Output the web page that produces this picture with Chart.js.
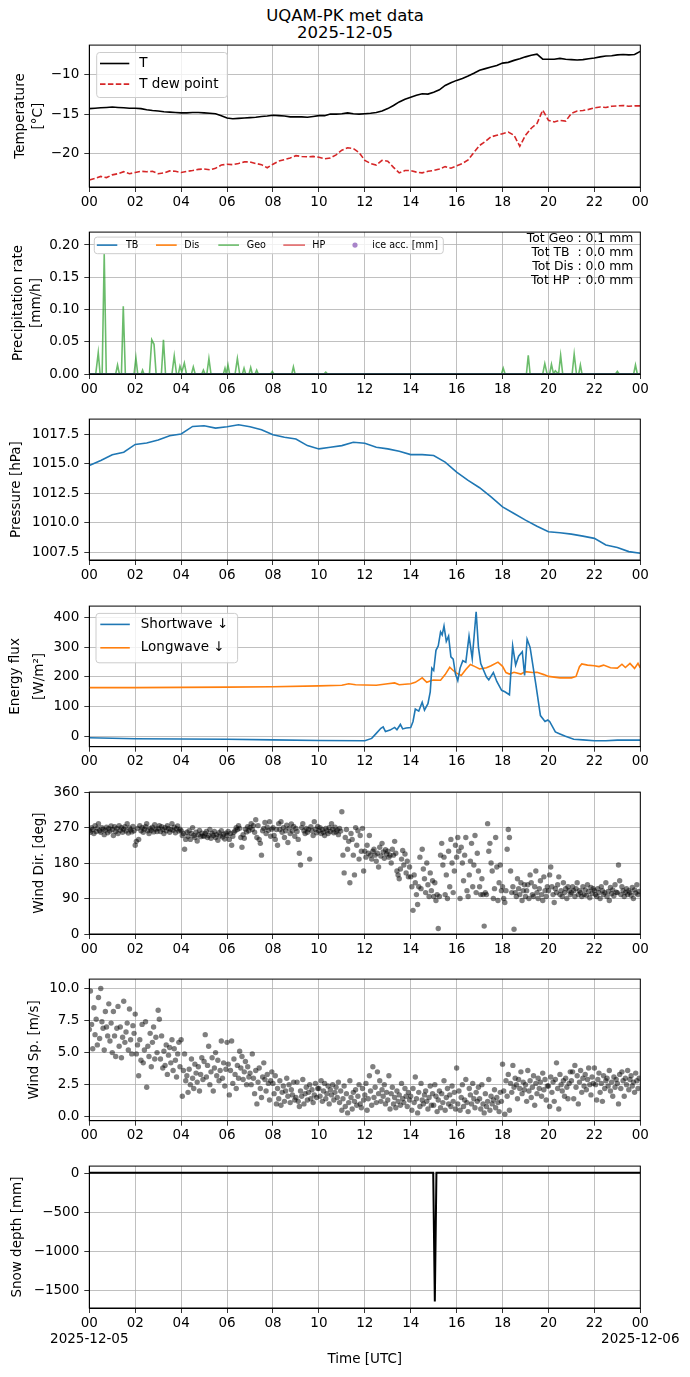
<!DOCTYPE html>
<html lang="en">
<head>
<meta charset="UTF-8">
<title>UQAM-PK met data</title>
<script src="https://cdn.jsdelivr.net/npm/chart.js"></script>
<style>
  html, body { margin: 0; padding: 0; background: #fff; }
  #fig { position: relative; width: 690px; height: 1377px; font-family: "DejaVu Sans", sans-serif; overflow: hidden; }
  #fig canvas { position: absolute; left: 0; }
  #suptitle { position: absolute; left: 0; top: 7px; width: 690px; text-align: center; font-size: 16.5px; line-height: 17.3px; color: #000; }
</style>
</head>
<body>
<div id="fig">
  <div id="suptitle">UQAM-PK met data<br>2025-12-05</div>
  <canvas id="cTemp"></canvas>
  <canvas id="cPrecip"></canvas>
  <canvas id="cPres"></canvas>
  <canvas id="cRad"></canvas>
  <canvas id="cDir"></canvas>
  <canvas id="cSpd"></canvas>
  <canvas id="cSnow"></canvas>
</div>
<script>
// ---- data ----
const hourTicks = [0, 2, 4, 6, 8, 10, 12, 14, 16, 18, 20, 22, 24];

// temperature, every 15 min
const tempT = [
  -14.3, -14.25, -14.2, -14.15, -14.1, -14.15, -14.2, -14.25,
  -14.25, -14.3, -14.45, -14.55, -14.6, -14.7, -14.75, -14.8,
  -14.85, -14.85, -14.8, -14.8, -14.85, -14.9, -14.95, -15.2,
  -15.5, -15.6, -15.55, -15.5, -15.45, -15.4, -15.3, -15.25,
  -15.15, -15.2, -15.25, -15.35, -15.35, -15.35, -15.4, -15.3,
  -15.2, -15.2, -15.0, -15.0, -14.95, -14.85, -14.95, -15.0,
  -14.95, -14.9, -14.8, -14.6, -14.3, -13.9, -13.45, -13.1,
  -12.85, -12.6, -12.4, -12.45, -12.2, -11.9, -11.35, -11.0,
  -10.7, -10.45, -10.15, -9.8, -9.4, -9.2, -9.0, -8.8,
  -8.5, -8.4, -8.15, -7.95, -7.7, -7.5, -7.35, -8.0,
  -8.0, -8.0, -7.9, -8.0, -8.05, -8.1, -8.05, -7.95,
  -7.85, -7.7, -7.6, -7.55, -7.45, -7.4, -7.45, -7.4,
  -7.0
];
const tempTd = [
  -23.4, -23.2, -22.95, -23.1, -22.75, -22.6, -22.35, -22.6,
  -22.45, -22.3, -22.35, -22.3, -22.6, -22.5, -22.25, -22.3,
  -22.45, -22.3, -22.2, -22.05, -22.0, -22.1, -21.9, -21.5,
  -21.4, -21.45, -21.3, -21.1, -21.1, -21.3, -21.45, -21.85,
  -21.4, -21.0, -20.8, -20.6, -20.3, -20.4, -20.45, -20.4,
  -20.5, -20.7, -20.6, -20.2, -19.6, -19.3, -19.4, -19.9,
  -20.9, -21.3, -21.5, -20.9, -21.0, -21.8, -22.5, -22.2,
  -22.2, -22.4, -22.5, -22.3, -22.2, -22.0, -21.7, -21.9,
  -21.6, -21.3, -20.85, -19.9, -19.0, -18.5, -17.9, -17.7,
  -17.5, -17.3, -17.7, -19.1, -17.7, -16.8, -16.2, -14.5,
  -15.8, -16.0, -15.8, -15.9, -14.9, -14.6, -14.55, -14.4,
  -14.2, -14.1, -14.15, -14.0, -13.95, -13.9, -14.0, -13.95,
  -13.95
];

// precipitation rate [mm/h]
const geoTimes = [0, 0.28, 0.39, 0.47, 0.56, 0.65, 0.74, 1.15, 1.23, 1.31, 1.4, 1.48, 1.57,
  1.95, 2.03, 2.11, 2.26, 2.32, 2.38, 2.62, 2.72, 2.82, 2.91, 3.14, 3.23, 3.32,
  3.6, 3.7, 3.8, 3.88, 3.95, 4.03, 4.14, 4.23, 4.45, 4.53, 4.61, 4.9, 4.97, 5.04,
  5.12, 5.21, 5.3, 5.84, 5.91, 5.97, 6.04, 6.11, 6.35, 6.45, 6.55, 6.67, 6.74, 6.81,
  6.96, 7.03, 7.1, 7.22, 7.29, 7.36, 7.9, 7.97, 8.04, 8.82, 8.89, 8.96, 10.22, 10.3, 10.38,
  17.95, 18.03, 18.11, 19.04, 19.12, 19.2, 19.75, 19.84, 19.94, 20.05, 20.13, 20.22,
  20.3, 20.44, 20.53, 20.62, 21.03, 21.12, 21.22, 21.32, 21.39, 21.46,
  22.92, 23.0, 23.08, 23.71, 23.79, 23.87, 24];
const geoRate = [0, 0, 0.033, 0, 0, 0.186, 0, 0, 0.014, 0, 0, 0.105, 0,
  0, 0.025, 0, 0, 0.006, 0, 0, 0.053, 0.046, 0, 0, 0.053, 0,
  0, 0.028, 0, 0, 0.012, 0.003, 0.017, 0, 0, 0.011, 0, 0, 0.006, 0,
  0, 0.024, 0, 0, 0.009, 0, 0.014, 0, 0, 0.024, 0, 0, 0.009, 0,
  0, 0.01, 0, 0, 0.006, 0, 0, 0.004, 0, 0, 0.011, 0, 0, 0.003, 0,
  0, 0.009, 0, 0, 0.029, 0, 0, 0.016, 0, 0, 0.015, 0,
  0.005, 0, 0.029, 0, 0, 0.031, 0, 0, 0.014, 0,
  0, 0.004, 0, 0, 0.014, 0, 0];
const flatTimes = [0, 24];
const tbRate = [0, 0];
const disRate = [0, 0];
const hpRate = [0, 0];
const precipTotals = ['Tot Geo : 0.1 mm', 'Tot TB  : 0.0 mm', 'Tot Dis : 0.0 mm', 'Tot HP  : 0.0 mm'];

// pressure, every 30 min
const pressure = [
  1014.84, 1015.26, 1015.74, 1015.96, 1016.62, 1016.74, 1017.0, 1017.36,
  1017.5, 1018.14, 1018.2, 1018.0, 1018.12, 1018.28, 1018.12, 1017.86,
  1017.44, 1017.22, 1017.08, 1016.52, 1016.24, 1016.38, 1016.52, 1016.8,
  1016.72, 1016.38, 1016.24, 1016.04, 1015.76, 1015.76, 1015.68, 1015.12,
  1014.28, 1013.58, 1012.96, 1012.18, 1011.34, 1010.78, 1010.22, 1009.71,
  1009.24, 1009.15, 1009.04, 1008.87, 1008.68, 1008.12, 1007.9, 1007.56,
  1007.42
];

// radiation [W/m2]
const swTimes = [0, 2, 4, 6, 8, 10, 12, 12.3, 12.5, 12.7, 12.8, 12.9, 13.1, 13.3, 13.4, 13.55,
  13.65, 13.8, 14.0, 14.1, 14.2, 14.35, 14.5, 14.6, 14.75, 14.85, 14.92, 15.0, 15.1, 15.2,
  15.3, 15.37, 15.45, 15.55, 15.65, 15.75, 15.85, 15.95, 16.05, 16.15, 16.27, 16.4, 16.54,
  16.68, 16.85, 16.95, 17.05, 17.3, 17.4, 17.6, 17.75, 17.96, 18.1, 18.3, 18.44, 18.57,
  18.7, 18.86, 18.96, 19.07, 19.2, 19.36, 19.45, 19.65, 19.85, 19.97, 20.05, 20.3, 20.5,
  20.74, 21.1, 21.5, 22, 22.5, 23, 24];
const swDown = [-5, -8, -9, -10, -12, -14, -15, -7, 10, 27, 32, 16, 21, 30, 22, 40,
  25, 28, 30, 50, 92, 85, 115, 88, 110, 150, 230, 222, 290, 305,
  352, 342, 372, 320, 338, 268, 260, 210, 188, 230, 255, 250, 338,
  262, 420, 300, 245, 200, 190, 215, 185, 155, 150, 140, 305, 240,
  270, 285, 205, 327, 300, 220, 175, 70, 50, 55, 50, 15, 8,
  0, -10, -12, -15, -15, -13, -13];
const lwTimes = [0, 2, 4, 6, 8, 10, 11, 11.3, 11.6, 12, 12.5, 13, 13.3, 13.5, 14, 14.2, 14.4,
  14.5, 14.7, 14.9, 15.0, 15.3, 15.5, 15.7, 15.85, 16, 16.2, 16.4, 16.6, 16.8, 17, 17.3,
  17.5, 17.8, 18, 18.15, 18.3, 18.5, 18.8, 19, 19.3, 19.5, 19.8, 20, 20.5, 21, 21.2,
  21.35, 21.45, 21.7, 22, 22.2, 22.4, 22.7, 23, 23.2, 23.35, 23.55, 23.75, 23.9, 24];
const lwDown = [164, 164, 165, 166, 167, 170, 172, 177, 174, 173, 172, 177, 180, 174, 177, 182, 192,
  197, 182, 188, 190, 189, 208, 233, 222, 213, 205, 225, 242, 235, 227, 231,
  238, 250, 236, 215, 210, 216, 210, 218, 215, 216, 208, 202, 197, 197, 202,
  235, 244, 240, 238, 235, 240, 231, 230, 243, 232, 246, 229, 246, 231];

// wind direction [deg], every 3 min (one row per hour)
const windDir = [
  262, 258, 270, 265, 255, 275, 260, 268, 280, 262, 258, 270, 266, 252, 263, 271, 257, 268, 261, 274,
  265, 250, 272, 260, 268, 255, 275, 263, 270, 258, 266, 272, 261, 280, 256, 269, 264, 259, 273, 262,
  225, 235, 268, 240, 275, 262, 270, 258, 266, 272, 280, 262, 255, 268, 263, 271, 259, 277, 266, 260,
  268, 275, 260, 272, 265, 255, 270, 262, 275, 268, 258, 265, 280, 263, 271, 257, 267, 274, 261, 266,
  262, 250, 255, 215, 240, 258, 248, 262, 240, 255, 270, 250, 245, 258, 236, 252, 263, 247, 256, 249,
  248, 255, 260, 245, 250, 265, 243, 255, 250, 260, 245, 252, 238, 257, 249, 262, 246, 253, 241, 256,
  250, 260, 240, 255, 225, 248, 258, 262, 270, 265, 275, 268, 245, 220, 252, 243, 266, 259, 272, 262,
  270, 280, 265, 275, 258, 290, 245, 275, 240, 230, 200, 262, 268, 283, 255, 271, 263, 285, 248, 266,
  270, 250, 240, 265, 225, 280, 265, 285, 258, 270, 245, 262, 276, 232, 268, 255, 279, 261, 273, 248,
  268, 260, 240, 205, 175, 270, 280, 262, 255, 268, 258, 265, 190, 272, 262, 250, 285, 266, 257, 273,
  262, 270, 255, 265, 258, 250, 268, 262, 255, 270, 260, 280, 266, 257, 271, 259, 264, 252, 268, 261,
  310, 200, 155, 245, 265, 215, 235, 130, 255, 240, 200, 150, 270, 225, 262, 190, 250, 210, 268, 160,
  210, 195, 225, 205, 250, 200, 190, 210, 215, 200, 185, 205, 170, 220, 198, 230, 208, 192, 214, 203,
  210, 195, 200, 180, 215, 200, 235, 205, 160, 150, 140, 165, 190, 212, 175, 203, 155, 185, 145, 170,
  145, 120, 60, 150, 130, 100, 75, 120, 195, 115, 215, 165, 140, 105, 180, 125, 95, 155, 110, 135,
  95, 130, 85, 100, 14, 95, 200, 230, 175, 195, 100, 150, 90, 210, 120, 240, 180, 105, 160, 225,
  195, 245, 210, 90, 220, 180, 135, 200, 245, 110, 95, 150, 185, 230, 120, 175, 250, 105, 205, 160,
  120, 100, 140, 100, 20, 105, 100, 280, 210, 230, 180, 160, 90, 115, 245, 170, 85, 130, 175, 110,
  120, 90, 80, 110, 215, 265, 245, 160, 105, 120, 12, 105, 95, 140, 115, 100, 130, 85, 110, 125,
  95, 110, 125, 90, 150, 130, 100, 95, 120, 160, 105, 90, 115, 135, 100, 85, 145, 110, 95, 120,
  110, 150, 170, 120, 100, 80, 115, 105, 125, 145, 100, 110, 95, 130, 105, 115, 90, 120, 110, 100,
  105, 120, 110, 95, 115, 130, 100, 110, 105, 95, 120, 100, 112, 98, 125, 108, 92, 118, 103, 115,
  110, 100, 95, 115, 105, 90, 120, 110, 100, 105, 130, 95, 108, 85, 118, 102, 112, 97, 125, 106,
  105, 175, 135, 100, 120, 110, 95, 105, 115, 100, 110, 105, 98, 118, 90, 112, 104, 125, 100, 108
];

// wind speed [m/s], every 3 min (one row per hour)
const windSpd = [
  6.8, 9.8, 7.2, 5.3, 8.5, 6.4, 7.6, 5.6, 9.3, 6.1, 10.0, 7.4, 6.9, 5.2, 8.2, 7.0, 6.3, 8.8, 5.9, 7.3,
  5.0, 8.2, 6.3, 4.7, 6.9, 8.6, 5.5, 7.0, 4.6, 6.2, 9.0, 5.8, 6.6, 7.3, 5.2, 8.4, 6.0, 4.9, 7.1, 6.5,
  8.0, 4.9, 5.6, 3.2, 6.0, 4.4, 7.2, 4.2, 5.2, 7.4, 2.3, 5.5, 4.7, 6.5, 3.9, 5.8, 7.0, 4.5, 6.2, 5.0,
  8.3, 7.6, 4.5, 6.3, 3.8, 5.1, 4.0, 5.6, 3.3, 4.8, 5.4, 4.2, 6.0, 3.6, 5.3, 4.4, 3.1, 4.9, 5.8, 3.9,
  6.0, 1.6, 3.6, 4.9, 2.8, 3.2, 1.9, 3.7, 2.5, 4.5, 3.0, 2.2, 4.1, 3.4, 2.7, 3.9, 2.0, 3.3, 4.6, 2.9,
  4.3, 6.4, 3.1, 4.0, 5.5, 2.5, 3.5, 4.6, 2.0, 3.8, 5.0, 3.2, 4.4, 2.8, 3.6, 5.9, 3.0, 4.2, 2.4, 3.7,
  5.8, 4.1, 1.7, 3.6, 5.9, 2.6, 4.5, 3.3, 2.2, 4.0, 3.0, 5.1, 3.8, 4.7, 2.9, 3.5, 4.3, 2.5, 3.9, 3.1,
  3.4, 2.5, 4.9, 3.0, 1.8, 3.6, 1.0, 2.7, 3.8, 2.2, 1.5, 3.1, 4.2, 2.9, 2.0, 3.3, 2.6, 1.3, 2.8, 3.5,
  2.6, 1.8, 3.2, 1.0, 2.2, 1.4, 2.8, 0.9, 1.9, 2.4, 1.2, 2.0, 3.0, 1.6, 2.5, 1.1, 2.1, 1.7, 2.7, 1.3,
  1.5, 2.7, 1.2, 0.8, 2.0, 1.6, 2.9, 1.0, 1.8, 2.3, 1.3, 1.9, 2.5, 1.4, 2.1, 1.1, 1.7, 2.6, 1.5, 2.2,
  2.2, 1.6, 2.8, 1.2, 2.0, 2.6, 1.4, 1.8, 2.4, 1.0, 2.1, 1.7, 2.5, 1.3, 1.9, 2.3, 1.5, 2.7, 1.1, 2.0,
  0.5, 1.4, 2.4, 0.8, 1.8, 0.3, 1.1, 2.8, 1.5, 0.6, 1.9, 1.2, 2.1, 0.9, 1.6, 2.5, 1.0, 0.7, 2.2, 1.3,
  1.7, 2.6, 0.5, 1.4, 3.2, 2.0, 0.9, 3.9, 1.5, 2.3, 1.1, 3.5, 1.8, 2.8, 1.2, 2.1, 1.6, 2.5, 1.0, 1.9,
  1.3, 3.2, 0.6, 1.8, 2.3, 1.0, 1.5, 0.7, 2.0, 1.2, 1.7, 0.9, 2.6, 1.4, 1.1, 2.2, 1.6, 0.8, 1.9, 1.3,
  1.6, 0.5, 2.2, 1.1, 3.1, 1.4, 0.3, 1.9, 0.8, 2.6, 1.3, 1.0, 1.7, 2.0, 1.2, 0.6, 1.5, 2.4, 0.9, 1.8,
  0.9, 2.5, 1.6, 0.4, 1.3, 2.0, 0.7, 1.8, 1.1, 2.8, 0.5, 1.5, 2.2, 1.0, 1.7, 0.8, 2.4, 1.2, 1.9, 0.6,
  3.8, 1.0, 2.0, 0.5, 1.5, 2.5, 0.8, 1.3, 2.9, 1.1, 0.4, 2.2, 1.7, 1.0, 2.6, 1.4, 0.7, 1.9, 1.2, 2.3,
  1.4, 0.6, 2.5, 1.0, 0.3, 1.8, 0.8, 1.2, 2.9, 0.5, 1.6, 1.0, 1.3, 2.1, 0.7, 1.5, 1.1, 0.4, 1.9, 1.2,
  4.1, 2.0, 0.2, 2.8, 1.6, 3.3, 0.5, 2.6, 1.9, 4.0, 2.3, 3.0, 2.5, 1.4, 2.9, 2.2, 3.5, 1.8, 2.7, 2.1,
  2.5, 1.2, 3.6, 2.0, 2.8, 1.5, 2.3, 3.2, 0.9, 2.6, 1.8, 3.0, 2.2, 2.7, 1.6, 3.4, 2.1, 2.9, 1.3, 2.4,
  2.4, 0.8, 3.1, 1.9, 2.7, 1.2, 2.9, 4.2, 2.2, 0.6, 3.3, 2.5, 2.0, 2.8, 1.6, 3.0, 2.3, 1.4, 2.6, 3.5,
  2.8, 3.5, 1.4, 4.0, 2.3, 3.2, 1.0, 2.7, 3.6, 1.9, 3.0, 2.4, 3.3, 2.1, 2.9, 3.8, 2.5, 1.7, 3.1, 2.6,
  3.8, 2.5, 1.3, 2.9, 3.4, 1.9, 2.6, 1.2, 3.2, 2.2, 2.8, 3.0, 2.4, 3.6, 2.0, 2.7, 1.6, 3.1, 2.3, 2.9,
  2.6, 1.0, 3.3, 2.2, 3.5, 2.8, 1.6, 3.0, 2.5, 3.6, 2.1, 2.9, 3.2, 2.4, 2.7, 1.9, 3.4, 2.8, 2.2, 3.0
];

// snow depth [mm]
const snowTimes = [0, 14.98, 15.05, 15.12, 24];
const snowDepth = [5, 5, -1640, 5, 5];

// ---- layout / style ----
const FONT = '"DejaVu Sans", sans-serif';
const FS = 13.5;
const FIG_W = 690, FIG_H = 1377;
const PLOT_LEFT = 89.3, PLOT_RIGHT = 640.3;
const PANEL_TOP = [44.3, 231.7, 418.3, 605, 791.7, 978.3, 1165];
const PANEL_BOTTOM = [187, 374, 560, 746.7, 934, 1120.7, 1308];
const GRID = '#b0b0b0';

const atStep = step => (v, i) => ({x: i * step, y: v});
const pairs = (ts, vs) => ts.map((t, i) => ({x: t, y: vs[i]}));
const hh = v => { const h = Math.round(v) % 24; return (h < 10 ? '0' : '') + h; };
const minus = s => String(s).replace('-', '\u2212');

const framePlugin = {
  id: 'frame',
  afterDraw(chart) {
    const {ctx, chartArea: a} = chart;
    ctx.save();
    ctx.strokeStyle = '#000';
    ctx.lineWidth = 1;
    ctx.strokeRect(a.left, a.top, a.right - a.left, a.bottom - a.top);
    ctx.restore();
  }
};

// matplotlib-like framed legend, drawn above the data
function boxLegend(spec) {
  return {
    id: 'boxLegend',
    afterDraw(chart) {
      const {ctx, chartArea: a} = chart;
      const x0 = a.left + spec.dx, y0 = a.top + spec.dy;
      ctx.save();
      ctx.beginPath();
      ctx.roundRect(x0, y0, spec.w, spec.h, 3);
      ctx.fillStyle = 'rgba(255,255,255,0.8)';
      ctx.fill();
      ctx.strokeStyle = '#cccccc';
      ctx.lineWidth = 1;
      ctx.stroke();
      ctx.font = spec.size + 'px ' + FONT;
      ctx.textBaseline = 'middle';
      ctx.textAlign = 'left';
      spec.items.forEach(it => {
        const y = y0 + it.y;
        ctx.beginPath();
        if (it.dot) {
          ctx.arc(x0 + it.x1, y, 2.6, 0, 2 * Math.PI);
          ctx.fillStyle = it.color;
          ctx.fill();
        } else {
          ctx.setLineDash(it.dash || []);
          ctx.moveTo(x0 + it.x1, y);
          ctx.lineTo(x0 + it.x2, y);
          ctx.strokeStyle = it.color;
          ctx.lineWidth = it.lw || 1.6;
          ctx.stroke();
          ctx.setLineDash([]);
        }
        ctx.fillStyle = '#000';
        ctx.fillText(it.label, x0 + it.tx, y);
      });
      ctx.restore();
    }
  };
}

const totalsPlugin = {
  id: 'totals',
  afterDraw(chart) {
    const {ctx, chartArea: a} = chart;
    ctx.save();
    ctx.font = '12.4px ' + FONT;
    ctx.fillStyle = '#000';
    ctx.textAlign = 'right';
    ctx.textBaseline = 'middle';
    precipTotals.forEach((s, i) => ctx.fillText(s, a.right - 7, a.top + 6.5 + i * 14.2));
    ctx.restore();
  }
};

function panel(id, idx, o) {
  const top = PANEL_TOP[idx], bottom = PANEL_BOTTOM[idx];
  const cTop = Math.floor(top - 12);
  const cBottom = o.last ? FIG_H : Math.ceil(bottom + 30);
  const cH = cBottom - cTop;
  const cv = document.getElementById(id);
  cv.width = FIG_W;
  cv.height = cH;
  cv.style.top = cTop + 'px';
  const xAxisH = cH - (bottom - cTop);
  const gridOpts = {color: GRID, lineWidth: 0.8, tickLength: 5, tickColor: '#000', tickWidth: 0.8};
  const tickFont = {family: FONT, size: FS};

  return new Chart(cv, {
    type: o.type || 'line',
    data: {datasets: o.datasets},
    options: {
      responsive: false,
      animation: false,
      events: [],
      layout: {padding: {top: top - cTop, right: FIG_W - PLOT_RIGHT, left: 0, bottom: 0}},
      plugins: {legend: {display: false}, tooltip: {enabled: false}, title: {display: false}},
      scales: {
        x: {
          type: 'linear', min: 0, max: 24,
          afterBuildTicks: s => { s.ticks = hourTicks.map(v => ({value: v})); },
          afterFit: s => { s.height = xAxisH; },
          grid: gridOpts,
          border: {display: true, color: '#000', width: 1},
          ticks: {
            color: '#000', font: tickFont, padding: 2, maxRotation: 0, autoSkip: false,
            callback: (v, i) => {
              if (o.last && i === 0) return [hh(v), '2025-12-05'];
              if (o.last && v === 24) return [hh(v), '2025-12-06'];
              return hh(v);
            }
          },
          title: o.last
            ? {display: true, text: 'Time [UTC]', color: '#000', font: {family: FONT, size: FS}, padding: {top: 0, bottom: 9.6}}
            : {display: false}
        },
        y: {
          type: 'linear', min: o.yMin, max: o.yMax,
          afterBuildTicks: s => { s.ticks = o.yTicks.map(v => ({value: v})); },
          afterFit: s => { s.width = PLOT_LEFT; },
          grid: gridOpts,
          border: {display: true, color: '#000', width: 1},
          ticks: {color: '#000', font: tickFont, padding: 5, callback: v => minus(o.yFmt(v))},
          title: {
            display: true, text: o.yTitle, color: '#000',
            font: {family: FONT, size: FS, lineHeight: o.titleLH || 1.2},
            padding: {top: o.titlePad, bottom: 0}
          }
        }
      }
    },
    plugins: [framePlugin].concat(o.plugins || [])
  });
}

const lineDs = (data, color, extra) => Object.assign({
  data, borderColor: color, backgroundColor: color, borderWidth: 1.6,
  pointRadius: 0, fill: false, tension: 0
}, extra || {});

const dotDs = data => ({
  data, pointRadius: 2.7, pointBorderWidth: 0,
  pointBackgroundColor: 'rgba(0,0,0,0.5)', pointBorderColor: 'rgba(0,0,0,0.5)', showLine: false
});

const C_TB = '#1f77b4', C_DIS = '#ff7f0e', C_GEO = 'rgba(44,160,44,0.7)', C_HP = 'rgba(214,39,40,0.7)', C_ICE = 'rgba(148,103,189,0.8)';

// 1. temperature
panel('cTemp', 0, {
  yMin: -24.3, yMax: -6.2, yTicks: [-20, -15, -10], yFmt: v => String(v),
  yTitle: ['Temperature', '[°C]'], titlePad: 10.9, titleLH: 1.35,
  datasets: [
    lineDs(tempT.map(atStep(0.25)), '#000'),
    lineDs(tempTd.map(atStep(0.25)), '#d62728', {borderDash: [5.5, 2.4]})
  ],
  plugins: [boxLegend({dx: 7.4, dy: 7.4, w: 130.6, h: 45, size: FS, items: [
    {label: 'T', color: '#000', x1: 3.3, x2: 32.6, tx: 42.6, y: 11},
    {label: 'T dew point', color: '#d62728', dash: [5.5, 2.4], x1: 3.3, x2: 32.6, tx: 42.6, y: 31.6}
  ]})]
});

// 2. precipitation
panel('cPrecip', 1, {
  yMin: 0, yMax: 0.22, yTicks: [0, 0.05, 0.1, 0.15, 0.2], yFmt: v => v.toFixed(2),
  yTitle: ['Precipitation rate', '[mm/h]'], titlePad: 8.7, titleLH: 1.38,
  datasets: [
    lineDs(pairs(flatTimes, tbRate), C_TB),
    lineDs(pairs(flatTimes, disRate), C_DIS),
    lineDs(pairs(geoTimes, geoRate), C_GEO),
    lineDs(pairs(flatTimes, hpRate), C_HP)
  ],
  plugins: [totalsPlugin, boxLegend({dx: 5, dy: 5, w: 349, h: 16.6, size: 9.6, items: [
    {label: 'TB', color: C_TB, x1: 2.5, x2: 23, tx: 31.7, y: 8},
    {label: 'Dis', color: C_DIS, x1: 61.7, x2: 82.4, tx: 90, y: 8},
    {label: 'Geo', color: C_GEO, x1: 124, x2: 144.7, tx: 152.4, y: 8},
    {label: 'HP', color: C_HP, x1: 189, x2: 210.7, tx: 218, y: 8},
    {label: 'ice acc. [mm]', color: C_ICE, dot: true, x1: 260.7, tx: 278, y: 8}
  ]})]
});

// 3. pressure
panel('cPres', 2, {
  yMin: 1006.85, yMax: 1018.76, yTicks: [1007.5, 1010, 1012.5, 1015, 1017.5], yFmt: v => v.toFixed(1),
  yTitle: 'Pressure [hPa]', titlePad: 8.4,
  datasets: [lineDs(pressure.map(atStep(0.5)), C_TB)]
});

// 4. radiation
panel('cRad', 3, {
  yMin: -35, yMax: 439, yTicks: [0, 100, 200, 300, 400], yFmt: v => String(v),
  yTitle: ['Energy flux', '[W/m²]'], titlePad: 3.3, titleLH: 1.79,
  datasets: [
    lineDs(pairs(swTimes, swDown), C_TB),
    lineDs(pairs(lwTimes, lwDown), C_DIS)
  ],
  plugins: [boxLegend({dx: 6.7, dy: 7.3, w: 141.6, h: 49.4, size: FS, items: [
    {label: 'Shortwave \u2193', color: C_TB, x1: 4.3, x2: 33.8, tx: 44.8, y: 11},
    {label: 'Longwave \u2193', color: C_DIS, x1: 4.3, x2: 33.8, tx: 44.8, y: 34.4}
  ]})]
});

// 5. wind direction
panel('cDir', 4, {
  type: 'scatter',
  yMin: 0, yMax: 360, yTicks: [0, 90, 180, 270, 360], yFmt: v => String(v),
  yTitle: 'Wind Dir. [deg]', titlePad: 30.9,
  datasets: [dotDs(windDir.map(atStep(1 / 20)))]
});

// 6. wind speed
panel('cSpd', 5, {
  type: 'scatter',
  yMin: -0.31, yMax: 10.73, yTicks: [0, 2.5, 5, 7.5, 10], yFmt: v => v.toFixed(1),
  yTitle: 'Wind Sp. [m/s]', titlePad: 26.4,
  datasets: [dotDs(windSpd.map(atStep(1 / 20)))]
});

// 7. snow depth
panel('cSnow', 6, {
  last: true,
  yMin: -1724, yMax: 89, yTicks: [-1500, -1000, -500, 0], yFmt: v => String(v),
  yTitle: 'Snow depth [mm]', titlePad: 9.4,
  datasets: [lineDs(pairs(snowTimes, snowDepth), '#000', {borderWidth: 2})]
});
</script>
</body>
</html>
